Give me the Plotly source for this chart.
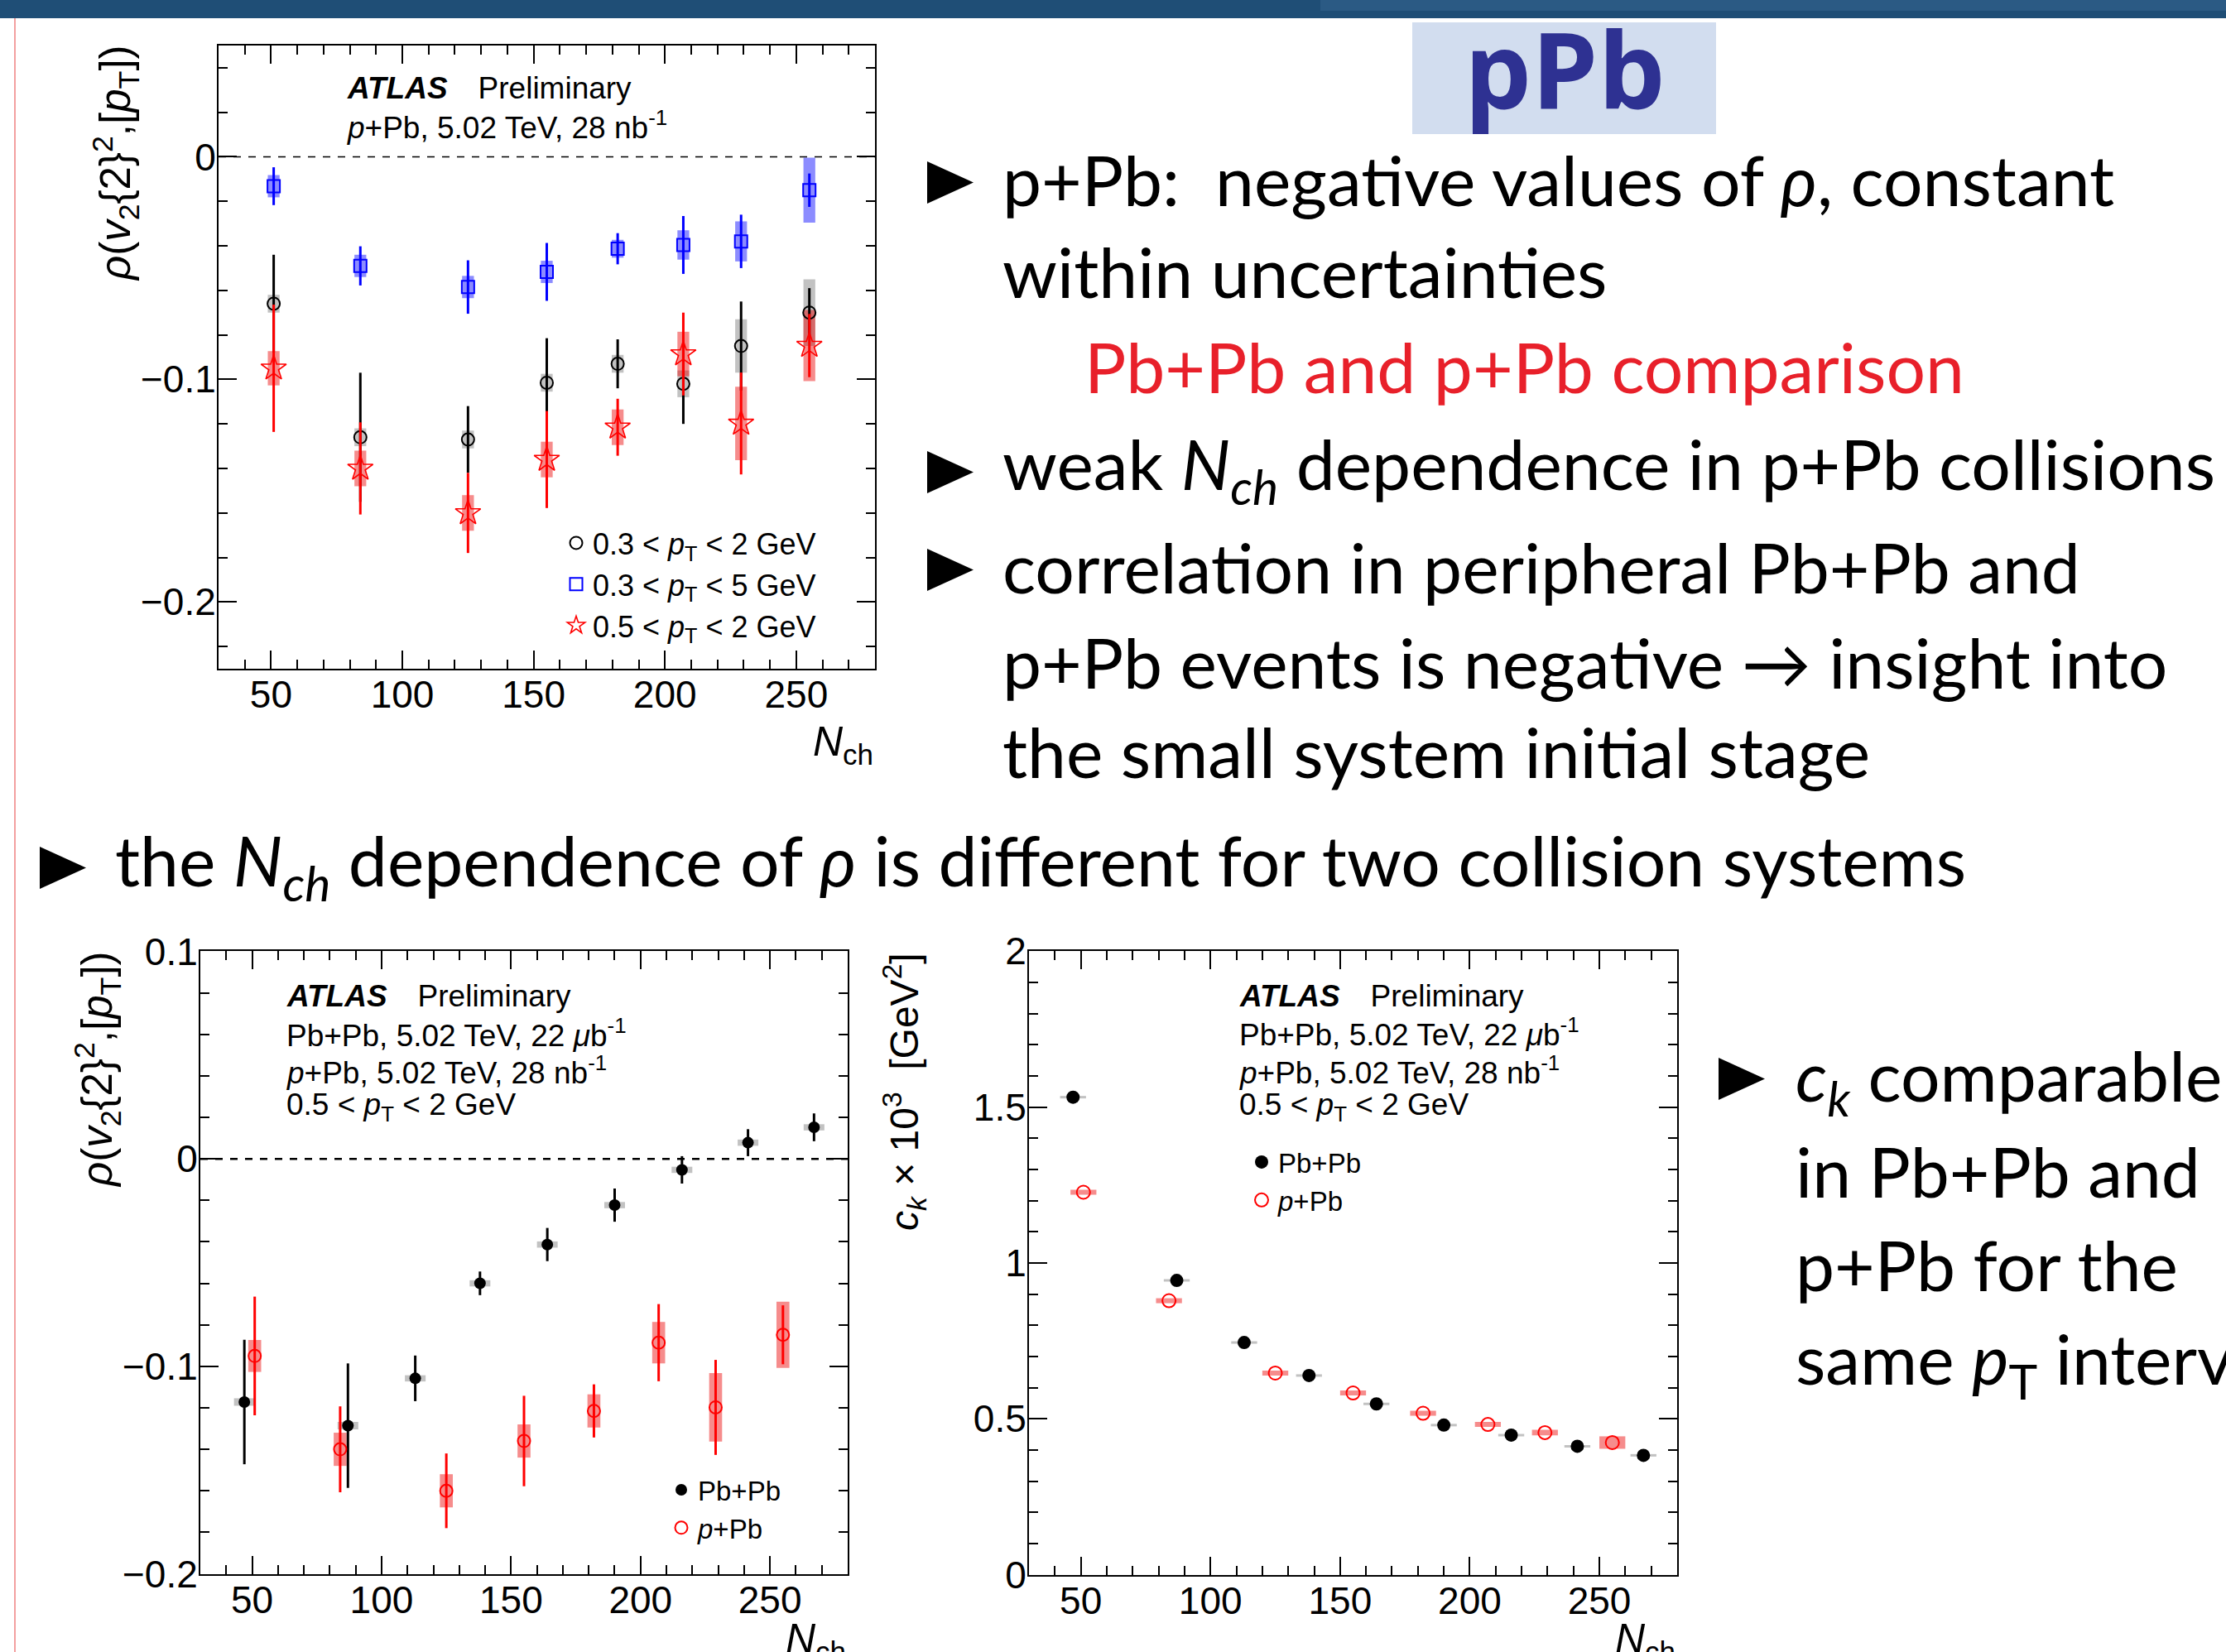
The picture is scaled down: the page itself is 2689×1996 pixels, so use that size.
import plotly.graph_objects as go

W, H = 2689, 1996

# ---------------- data ----------------
# multiplicity bins
nch_ppb = [51, 84, 125, 155, 182, 207, 229, 255]
nch_pbpb = [47, 87, 113, 138, 164, 190, 216, 241.5, 267]

# panel A: p+Pb rho for three pT ranges
rho_ppb_03_2 = [-0.066, -0.126, -0.127, -0.1015, -0.093, -0.102, -0.085, -0.070]
rho_ppb_03_2_stat = [0.022, 0.029, 0.015, 0.020, 0.011, 0.018, 0.020, 0.011]
rho_ppb_03_2_sys = [0.004, 0.004, 0.004, 0.004, 0.004, 0.006, 0.012, 0.015]

rho_ppb_03_5 = [-0.0132, -0.049, -0.0585, -0.0517, -0.0413, -0.0396, -0.038, -0.015]
rho_ppb_03_5_stat = [0.0085, 0.0088, 0.012, 0.013, 0.007, 0.013, 0.012, 0.0075]
rho_ppb_03_5_sys = [0.005, 0.005, 0.005, 0.005, 0.004, 0.0066, 0.009, 0.0146]

rho_ppb_05_2 = [-0.095, -0.140, -0.160, -0.136, -0.1215, -0.0886, -0.1198, -0.0848]
rho_ppb_05_2_stat = [0.0286, 0.0207, 0.018, 0.0218, 0.0128, 0.0186, 0.0229, 0.0142]
rho_ppb_05_2_sys = [0.0077, 0.008, 0.008, 0.008, 0.008, 0.010, 0.0165, 0.016]

# panel B: Pb+Pb rho, 0.5 < pT < 2 GeV
rho_pbpb = [-0.1172, -0.1286, -0.1058, -0.060, -0.0413, -0.0223, -0.0053, 0.0078, 0.0152]
rho_pbpb_stat = [0.030, 0.030, 0.011, 0.0057, 0.008, 0.008, 0.0066, 0.0065, 0.0067]
rho_pbpb_sys = [0.0018, 0.0018, 0.0015, 0.0015, 0.0015, 0.0015, 0.0015, 0.0015, 0.0015]

# panel C: c_k x 10^3 [GeV^2]
ck_pbpb = [1.532, 0.944, 0.745, 0.639, 0.548, 0.480, 0.448, 0.412, 0.383]
ck_pbpb_sys = [0.004, 0.004, 0.004, 0.004, 0.004, 0.004, 0.004, 0.004, 0.004]
ck_ppb = [1.227, 0.879, 0.647, 0.583, 0.518, 0.482, 0.456, 0.424]
ck_ppb_sys = [0.008, 0.008, 0.008, 0.008, 0.008, 0.008, 0.009, 0.02]

# legend labels
lab_03_2 = "0.3 &lt; <i>p</i><sub>T</sub> &lt; 2 GeV"
lab_03_5 = "0.3 &lt; <i>p</i><sub>T</sub> &lt; 5 GeV"
lab_05_2 = "0.5 &lt; <i>p</i><sub>T</sub> &lt; 2 GeV"
lab_pbpb = "Pb+Pb"
lab_ppb = "<i>p</i>+Pb"

# ---------------- helpers ----------------
def px(x):
    return x / W


def py(y):
    return 1 - y / H


PLOT_FONT = "Liberation Sans, Arial, sans-serif"
SLIDE_FONT = "Lato, sans-serif"

fig = go.Figure()


def add_points(x, y, stat, sys, boxw, boxcolor, marker, name, xa, ya, legend,
               errcolor, showlegend=True):
    fig.add_trace(go.Bar(
        x=x, y=[2 * s for s in sys], base=[v - s for v, s in zip(y, sys)],
        width=boxw, marker=dict(color=boxcolor, line=dict(width=0)),
        xaxis=xa, yaxis=ya, showlegend=False, hoverinfo="skip"))
    err = None
    if stat is not None:
        err = dict(type="data", array=stat, color=errcolor, thickness=3, width=0)
    fig.add_trace(go.Scatter(
        x=x, y=y, mode="markers", marker=marker, error_y=err, name=name,
        xaxis=xa, yaxis=ya, legend=legend, showlegend=showlegend))


GREY = "rgba(120,120,120,0.45)"
BLUEBOX = "rgba(0,0,255,0.45)"
REDBOX = "rgba(235,0,0,0.45)"

# panel A
add_points(nch_ppb, rho_ppb_03_2, rho_ppb_03_2_stat, rho_ppb_03_2_sys, 4.5, GREY,
           dict(symbol="circle-open", size=15, color="black", line=dict(width=2, color="black")),
           lab_03_2, "x", "y", "legend", "black")
add_points(nch_ppb, rho_ppb_03_5, rho_ppb_03_5_stat, rho_ppb_03_5_sys, 4.5, BLUEBOX,
           dict(symbol="square-open", size=15, color="#0000ff", line=dict(width=2, color="#0000ff")),
           lab_03_5, "x", "y", "legend", "#0000ff")
add_points(nch_ppb, rho_ppb_05_2, rho_ppb_05_2_stat, rho_ppb_05_2_sys, 4.5, REDBOX,
           dict(symbol="star-open", size=23, color="#ff0000", line=dict(width=1.6, color="#ff0000")),
           lab_05_2, "x", "y", "legend", "#ff0000")

# panel B
add_points(nch_pbpb, rho_pbpb, rho_pbpb_stat, rho_pbpb_sys, 8, GREY,
           dict(symbol="circle", size=14, color="black"),
           lab_pbpb, "x2", "y2", "legend2", "black")
add_points(nch_ppb, rho_ppb_05_2, rho_ppb_05_2_stat, rho_ppb_05_2_sys, 5, REDBOX,
           dict(symbol="circle-open", size=15, color="#ff0000", line=dict(width=2, color="#ff0000")),
           lab_ppb, "x2", "y2", "legend2", "#ff0000")

# panel C
add_points(nch_pbpb, ck_pbpb, None, ck_pbpb_sys, 10, GREY,
           dict(symbol="circle", size=16, color="black"),
           lab_pbpb, "x3", "y3", "legend3", "black")
add_points(nch_ppb, ck_ppb, None, ck_ppb_sys, 10, REDBOX,
           dict(symbol="circle-open", size=16, color="#ff0000", line=dict(width=2, color="#ff0000")),
           lab_ppb, "x3", "y3", "legend3", "#ff0000")

# ---------------- axes ----------------
def axis(domain, rng, dtick, mdtick, anchor, standoff):
    return dict(
        domain=domain, range=rng, dtick=dtick, tick0=0, anchor=anchor,
        automargin=False, ticklabelstandoff=standoff,
        showline=True, linecolor="black", linewidth=2, mirror="allticks",
        ticks="inside", ticklen=22, tickwidth=2, tickcolor="black",
        showgrid=False, zeroline=False,
        tickfont=dict(family=PLOT_FONT, size=46, color="black"),
        minor=dict(ticks="inside", ticklen=11, tickwidth=2, tickcolor="black",
                   dtick=mdtick, tick0=0, showgrid=False),
    )


XS, YS = -10, -8
fig.update_layout(
    xaxis=axis([px(264), px(1057)], [30, 280], 50, 10, "y", XS),
    yaxis=axis([py(808), py(55)], [-0.23, 0.05], 0.1, 0.02, "x", YS),
    xaxis2=axis([px(242), px(1024)], [30, 280], 50, 10, "y2", XS),
    yaxis2=axis([py(1902), py(1149)], [-0.2002, 0.1002], 0.1, 0.02, "x2", YS),
    xaxis3=axis([px(1243), px(2026)], [30, 280], 50, 10, "y3", XS),
    yaxis3=axis([py(1903), py(1149)], [-0.001, 2.001], 0.5, 0.1, "x3", YS),
)

# ---------------- legends ----------------
def legend(x, y, size):
    return dict(x=px(x), y=py(y), xanchor="left", yanchor="top",
                bgcolor="rgba(0,0,0,0)", borderwidth=0,
                font=dict(family=PLOT_FONT, size=size, color="black"))


fig.update_layout(
    legend=legend(676, 626, 36),
    legend2=legend(803, 1772, 33),
    legend3=legend(1504, 1376, 33),
)

# ---------------- shapes ----------------
shapes = []
# slide header band and left rule
shapes.append(dict(type="rect", xref="paper", yref="paper", x0=0, x1=1, y0=py(22), y1=1,
                   fillcolor="#1f4e76", line=dict(width=0), layer="below"))
shapes.append(dict(type="rect", xref="paper", yref="paper", x0=px(1595), x1=1, y0=py(13), y1=1,
                   fillcolor="#2b5a84", line=dict(width=0), layer="below"))
shapes.append(dict(type="line", xref="paper", yref="paper", x0=px(18), x1=px(18), y0=0, y1=py(22),
                   line=dict(color="#f3a0a0", width=2)))
# title box
shapes.append(dict(type="rect", xref="paper", yref="paper", x0=px(1706), x1=px(2073),
                   y0=py(162), y1=py(27), fillcolor="#d2ddef", line=dict(width=0), layer="below"))
# zero reference lines
shapes.append(dict(type="line", xref="x domain", yref="y", x0=0, x1=1, y0=0, y1=0,
                   line=dict(color="black", width=1.5, dash="dash"), layer="below"))
shapes.append(dict(type="line", xref="x2 domain", yref="y2", x0=0, x1=1, y0=0, y1=0,
                   line=dict(color="black", width=2.5, dash="dash"), layer="below"))


def tri(x0, y0, w=56, h=51):
    return dict(type="path", xref="paper", yref="paper",
                path=f"M {px(x0)} {py(y0)} L {px(x0 + w)} {py(y0 + h / 2)} L {px(x0)} {py(y0 + h)} Z",
                fillcolor="black", line=dict(width=0))


shapes += [tri(1120, 195), tri(1120, 545), tri(1120, 663), tri(48, 1023), tri(2076, 1278)]
fig.update_layout(shapes=shapes)

# ---------------- annotations ----------------
ann = []


def text(x, y, s, size, family=PLOT_FONT, color="black", xanchor="left", yanchor="middle", angle=0):
    ann.append(dict(x=px(x), y=py(y), xref="paper", yref="paper", text=s, showarrow=False,
                    xanchor=xanchor, yanchor=yanchor, textangle=angle,
                    font=dict(family=family, size=size, color=color)))


# panel A labels
text(417, 106, "<b><i>ATLAS</i></b>\u2002\u2002Preliminary", 37)
text(417, 151, "<i>p</i>+Pb, 5.02 TeV, 28 nb<sup>-1</sup>", 37)
# panel B labels
text(344, 1203, "<b><i>ATLAS</i></b>\u2002\u2002Preliminary", 37)
text(344, 1248, "Pb+Pb, 5.02 TeV, 22 <i>μ</i>b<sup>-1</sup>", 37)
text(344, 1293, "<i>p</i>+Pb, 5.02 TeV, 28 nb<sup>-1</sup>", 37)
text(344, 1337, "0.5 &lt; <i>p</i><sub>T</sub> &lt; 2 GeV", 37)
# panel C labels
text(1495, 1203, "<b><i>ATLAS</i></b>\u2002\u2002Preliminary", 37)
text(1495, 1247, "Pb+Pb, 5.02 TeV, 22 <i>μ</i>b<sup>-1</sup>", 37)
text(1495, 1293, "<i>p</i>+Pb, 5.02 TeV, 28 nb<sup>-1</sup>", 37)
text(1495, 1337, "0.5 &lt; <i>p</i><sub>T</sub> &lt; 2 GeV", 37)

# axis titles
rho_title = "<i>ρ</i>(<i>v</i><sub>2</sub>{2}<sup>2</sup>,[<i>p</i><sub>T</sub>])"
text(140, 52, rho_title, 51, xanchor="center", yanchor="top", angle=-90)
text(118, 1147, rho_title, 51, xanchor="center", yanchor="top", angle=-90)
text(1092, 1149, "<i>c<sub>k</sub></i> × 10<sup>3</sup>  [GeV<sup>2</sup>]", 48,
     xanchor="center", yanchor="top", angle=-90)
nch_title = "<i>N</i><sub>ch</sub>"
text(1057, 866, nch_title, 50, xanchor="right", yanchor="top")
text(1024, 1950, nch_title, 50, xanchor="right", yanchor="top")
text(2026, 1950, nch_title, 50, xanchor="right", yanchor="top")

# slide title
text(1890, 82, "<b>pPb</b>", 128, family="Open Sans, sans-serif", color="#2e3192", xanchor="center")

# slide body text
BS = 84
body = [
    (1209, 216, "p+Pb:  negative values of <i>ρ</i>, constant", "black"),
    (1209, 327, "within uncertainties", "black"),
    (1308, 443, "Pb+Pb and p+Pb comparison", "#e8202a"),
    (1209, 566, "weak <i>N<sub>ch</sub></i> dependence in p+Pb collisions", "black"),
    (1209, 684, "correlation in peripheral Pb+Pb and", "black"),
    (1209, 799, "p+Pb events is negative → insight into", "black"),
    (1209, 907, "the small system initial stage", "black"),
    (137, 1045, "the <i>N<sub>ch</sub></i> dependence of <i>ρ</i> is different for two collision systems", "black"),
    (2167, 1305, "<i>c<sub>k</sub></i> comparable", "black"),
    (2167, 1414, "in Pb+Pb and", "black"),
    (2167, 1527, "p+Pb for the", "black"),
    (2167, 1647, "same <i>p</i><sub>T</sub> interval", "black"),
]
for x, y, s, c in body:
    text(x, y, s, BS, family=SLIDE_FONT, color=c)

fig.update_layout(
    annotations=ann,
    width=W, height=H, autosize=False,
    margin=dict(l=0, r=0, t=0, b=0, autoexpand=False),
    paper_bgcolor="white", plot_bgcolor="white",
    barmode="overlay", showlegend=True,
)

fig.write_html("out.html")
